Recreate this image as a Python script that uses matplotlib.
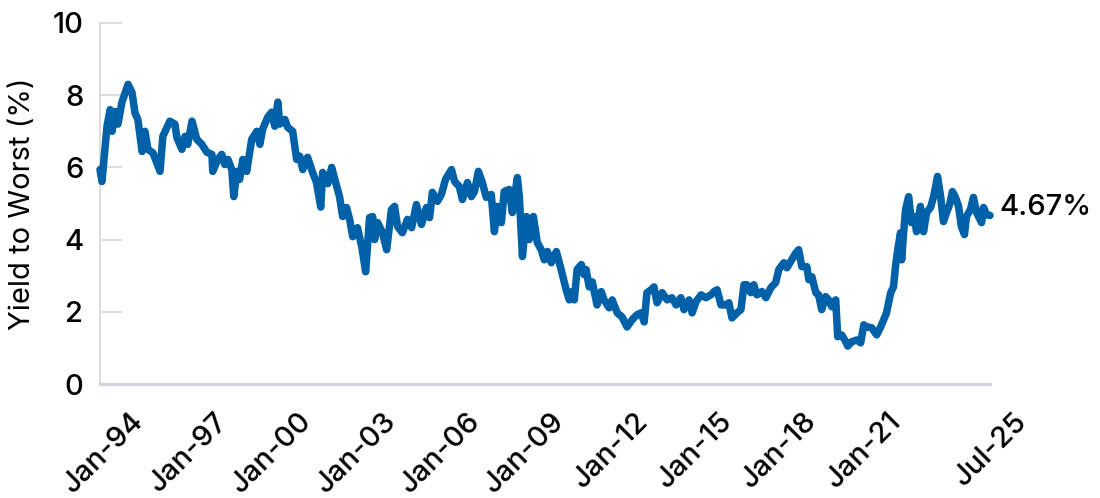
import matplotlib
matplotlib.use("Agg")
import matplotlib.pyplot as plt
import matplotlib.transforms as mtransforms

# Yield to worst (%). Dates as decimal years.
years = [
    1993.82, 1993.89, 1994.07, 1994.18, 1994.25, 1994.36, 1994.46, 1994.60, 1994.82, 1994.96,
    1995.07, 1995.17, 1995.32, 1995.42, 1995.53, 1995.71, 1995.96, 1996.06, 1996.31, 1996.49,
    1996.56, 1996.74, 1996.85, 1996.95, 1997.10, 1997.27, 1997.45, 1997.63, 1997.81, 1997.84,
    1998.02, 1998.16, 1998.27, 1998.38, 1998.52, 1998.59, 1998.70, 1998.80, 1998.91, 1999.05,
    1999.23, 1999.41, 1999.52, 1999.62, 1999.80, 1999.94, 2000.05, 2000.16, 2000.23, 2000.41,
    2000.51, 2000.69, 2000.83, 2000.94, 2001.05, 2001.22, 2001.40, 2001.54, 2001.69, 2001.76,
    2001.94, 2002.08, 2002.19, 2002.36, 2002.47, 2002.61, 2002.72, 2002.83, 2003.00, 2003.15,
    2003.29, 2003.43, 2003.54, 2003.61, 2003.72, 2003.89, 2004.04, 2004.21, 2004.32, 2004.43,
    2004.60, 2004.78, 2004.93, 2005.10, 2005.28, 2005.46, 2005.57, 2005.67, 2005.85, 2005.99,
    2006.14, 2006.35, 2006.46, 2006.63, 2006.74, 2006.92, 2007.06, 2007.17, 2007.31, 2007.45,
    2007.59, 2007.77, 2007.88, 2007.99, 2008.13, 2008.23, 2008.41, 2008.52, 2008.70, 2008.77,
    2008.88, 2009.02, 2009.12, 2009.27, 2009.41, 2009.55, 2009.66, 2009.77, 2009.91, 2010.09,
    2010.26, 2010.44, 2010.55, 2010.65, 2010.73, 2010.83, 2010.98, 2011.08, 2011.15, 2011.26,
    2011.37, 2011.54, 2011.69, 2011.79, 2011.97, 2012.08, 2012.26, 2012.43, 2012.61, 2012.79,
    2012.97, 2013.11, 2013.22, 2013.32, 2013.47, 2013.57, 2013.68, 2013.86, 2014.04, 2014.21,
    2014.36, 2014.53, 2014.64, 2014.82, 2014.93, 2015.07, 2015.25, 2015.42, 2015.60, 2015.71,
    2015.82, 2015.96, 2016.14, 2016.24, 2016.35, 2016.53, 2016.67, 2016.78, 2016.88, 2017.02,
    2017.13, 2017.24, 2017.42, 2017.56, 2017.74, 2017.91, 2018.02, 2018.20, 2018.31, 2018.48,
    2018.62, 2018.73, 2018.84, 2019.02, 2019.09, 2019.20, 2019.34, 2019.44, 2019.55, 2019.69,
    2019.80, 2019.91, 2020.05, 2020.12, 2020.26, 2020.41, 2020.48, 2020.62, 2020.80, 2020.94,
    2021.05, 2021.15, 2021.33, 2021.51, 2021.65, 2021.76, 2021.86, 2022.01, 2022.11, 2022.18,
    2022.26, 2022.36, 2022.40, 2022.47, 2022.54, 2022.65, 2022.75, 2022.86, 2022.93, 2023.07,
    2023.18, 2023.29, 2023.43, 2023.54, 2023.68, 2023.79, 2023.89, 2024.00, 2024.11, 2024.21,
    2024.32, 2024.43, 2024.53, 2024.64, 2024.71, 2024.85, 2024.96, 2025.07, 2025.25, 2025.32,
    2025.42, 2025.55,
]
ytw = [
    5.94, 5.61, 7.14, 7.60, 7.00, 7.55, 7.20, 7.80, 8.30, 8.08,
    7.50, 7.33, 6.44, 7.00, 6.50, 6.40, 5.89, 6.86, 7.28, 7.20,
    6.83, 6.50, 6.86, 6.64, 7.28, 6.78, 6.64, 6.42, 6.36, 5.89,
    6.22, 6.36, 6.08, 6.22, 5.94, 5.19, 5.89, 5.67, 6.22, 5.89,
    6.78, 7.00, 6.64, 7.06, 7.39, 7.53, 7.14, 7.81, 7.20, 7.33,
    7.11, 7.00, 6.22, 6.31, 5.94, 6.28, 5.86, 5.58, 4.90, 5.86,
    5.55, 6.00, 5.67, 5.19, 4.64, 4.89, 4.56, 4.08, 4.33, 3.81,
    3.11, 4.61, 4.64, 4.00, 4.47, 4.19, 3.72, 4.83, 4.92, 4.36,
    4.19, 4.56, 4.33, 4.97, 4.42, 4.89, 4.61, 5.31, 5.06, 5.25,
    5.67, 5.94, 5.61, 5.47, 5.11, 5.58, 5.19, 5.33, 5.89, 5.58,
    5.17, 5.25, 4.22, 4.92, 4.47, 5.33, 5.39, 4.75, 5.72, 5.19,
    3.53, 4.64, 4.00, 4.64, 3.92, 3.72, 3.44, 3.67, 3.36, 3.67,
    3.17, 2.61, 2.33, 2.56, 2.33, 3.17, 3.31, 3.03, 3.17, 2.69,
    2.83, 2.19, 2.56, 2.33, 2.11, 2.33, 1.97, 1.86, 1.58, 1.78,
    1.92, 1.97, 1.72, 2.53, 2.61, 2.69, 2.25, 2.53, 2.33, 2.39,
    2.19, 2.39, 2.06, 2.33, 1.97, 2.28, 2.47, 2.39, 2.47, 2.56,
    2.61, 2.19, 2.19, 2.25, 1.83, 1.97, 2.06, 2.75, 2.75, 2.53,
    2.75, 2.47, 2.56, 2.39, 2.67, 2.81, 3.17, 3.36, 3.22, 3.44,
    3.62, 3.72, 3.25, 3.25, 2.89, 2.97, 2.53, 2.47, 2.06, 2.42,
    2.33, 2.14, 2.33, 1.31, 1.36, 1.17, 1.05, 1.17, 1.22, 1.14,
    1.64, 1.58, 1.56, 1.36, 1.58, 1.78, 1.97, 2.53, 2.69, 3.25,
    3.72, 4.19, 3.44, 4.19, 4.83, 5.19, 4.47, 4.64, 4.22, 4.92,
    4.22, 4.75, 4.89, 5.19, 5.75, 5.19, 4.50, 4.75, 4.97, 5.33,
    5.17, 4.92, 4.36, 4.14, 4.64, 4.83, 5.17, 4.75, 4.47, 4.89,
    4.69, 4.67,
]

tick_years = [1994, 1997, 2000, 2003, 2006, 2009, 2012, 2015, 2018, 2021, 2025.5]
tick_labels = ["Jan-94", "Jan-97", "Jan-00", "Jan-03", "Jan-06", "Jan-09",
               "Jan-12", "Jan-15", "Jan-18", "Jan-21", "Jul-25"]
y_ticks = [0, 2, 4, 6, 8, 10]
last_label = "4.67%"

BLUE = "#0061a8"
GRAY = "#d3d6da"
FS = 21

plt.rcParams['font.family'] = ['Inter', 'DejaVu Sans']
plt.rcParams['font.weight'] = 'medium'

fig = plt.figure(figsize=(11, 4.98), dpi=100)
ax = fig.add_axes([100 / 1100, 114 / 498, 890 / 1100, 361 / 498])

ax.plot(years, ytw, color=BLUE, lw=5.4, solid_joinstyle='round',
        solid_capstyle='round', clip_on=False, zorder=3)

ax.set_xlim(years[0], years[-1])
ax.set_ylim(0, 10)
ax.set_yticks(y_ticks)
ax.set_xticks(tick_years)
ax.set_xticklabels(tick_labels, rotation=45, ha='right', va='top',
                   rotation_mode='anchor')

for side in ['top', 'right']:
    ax.spines[side].set_visible(False)
ax.spines['left'].set_color(GRAY)
ax.spines['left'].set_linewidth(1.2)
ax.spines['bottom'].set_color(GRAY)
ax.spines['bottom'].set_linewidth(2.4)

ax.tick_params(axis='y', direction='in', length=16, width=1.2, color=GRAY,
               labelsize=FS, pad=12)
ax.tick_params(axis='x', length=0, labelsize=FS, pad=17)

# push the rotated date labels right along the diagonal
shift = mtransforms.ScaledTranslation(25 / 100, 0, fig.dpi_scale_trans)
for lab in ax.get_xticklabels():
    lab.set_transform(lab.get_transform() + shift)

ax.set_ylabel("Yield to Worst (%)", fontsize=FS, labelpad=12)

ax.annotate(last_label, xy=(years[-1], ytw[-1]), xytext=(7, 6),
            textcoords='offset points', va='center', ha='left', fontsize=FS)

fig.savefig("out.png", dpi=100)
